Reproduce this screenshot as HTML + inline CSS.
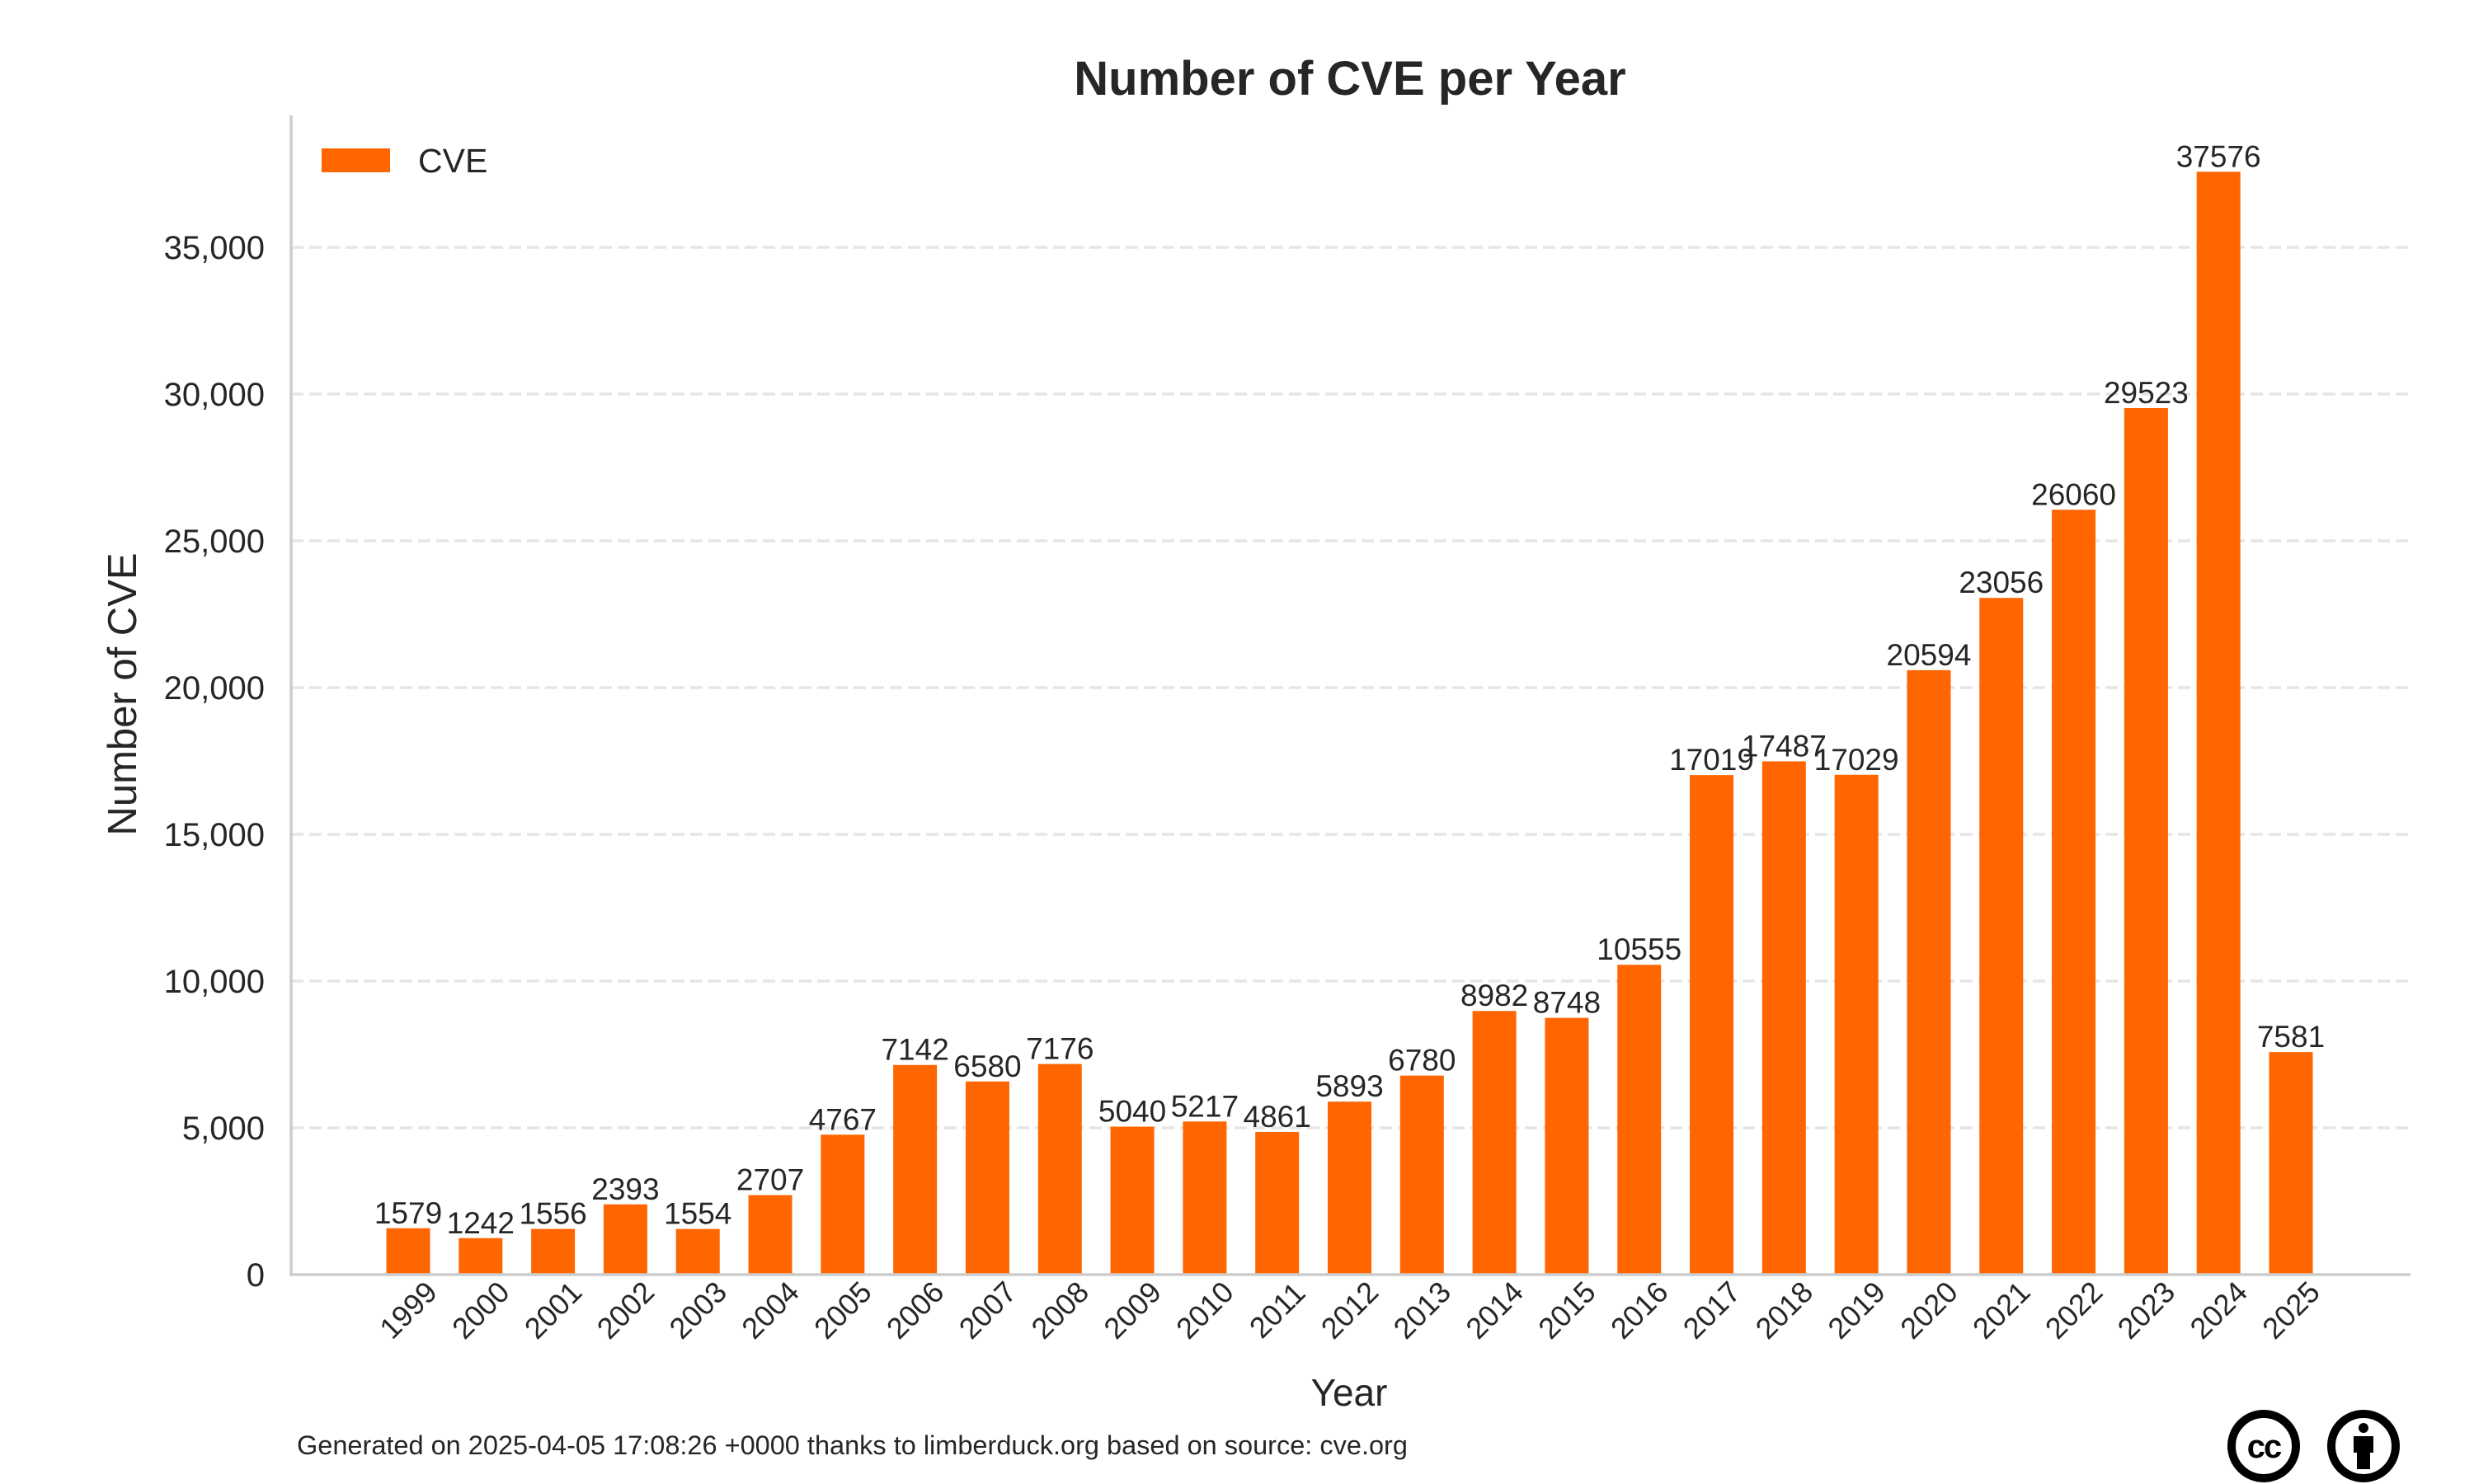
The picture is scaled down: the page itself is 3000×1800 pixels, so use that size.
<!DOCTYPE html>
<html><head><meta charset="utf-8"><style>
html,body{margin:0;padding:0;background:#fff;}
svg{display:block;font-family:"Liberation Sans",Arial,sans-serif;}
</style></head><body>
<svg id="chart" width="3000" height="1800" viewBox="0 0 3000 1800" xmlns="http://www.w3.org/2000/svg">
<rect width="3000" height="1800" fill="#fff"/>
<text x="1637" y="115" text-anchor="middle" font-size="58" font-weight="bold" fill="#262626">Number of CVE per Year</text>
<g id="grid"></g>
<g id="bars"></g>
<g id="labels"></g>
<g id="yticks"></g>
<g id="xticks"></g>
<line x1="353" y1="140" x2="353" y2="1547" stroke="#cccccc" stroke-width="3.5"/>
<line x1="351" y1="1546" x2="2923" y2="1546" stroke="#cccccc" stroke-width="3.5"/>
<text x="1636" y="1705" text-anchor="middle" font-size="46" fill="#262626">Year</text>
<text transform="translate(165,842) rotate(-90)" text-anchor="middle" font-size="49" fill="#262626">Number of CVE</text>
<g>
<rect x="390" y="180" width="83" height="29" fill="#ff6600"/>
<text x="507" y="209" font-size="41" fill="#262626">CVE</text>
</g>
<text x="360" y="1764" font-size="32.5" fill="#262626">Generated on 2025-04-05 17:08:26 +0000 thanks to limberduck.org based on source: cve.org</text>
<g>
<circle cx="2745" cy="1754" r="39" fill="none" stroke="#000" stroke-width="10"/>
<text x="2745" y="1768" text-anchor="middle" font-size="40" font-weight="bold" fill="#000" letter-spacing="-2">cc</text>
</g>
<g>
<circle cx="2866" cy="1754" r="39" fill="none" stroke="#000" stroke-width="10"/>
<circle cx="2866" cy="1732" r="6" fill="#000"/>
<rect x="2854" y="1742" width="24" height="20" fill="#000"/>
<rect x="2858" y="1760" width="16" height="22" fill="#000"/>
</g>
</svg>
<script>
const years = ["1999","2000","2001","2002","2003","2004","2005","2006","2007","2008","2009","2010","2011","2012","2013","2014","2015","2016","2017","2018","2019","2020","2021","2022","2023","2024","2025"];
const cveCounts = [1579,1242,1556,2393,1554,2707,4767,7142,6580,7176,5040,5217,4861,5893,6780,8982,8748,10555,17019,17487,17029,20594,23056,26060,29523,37576,7581];
const yTicks = [0,5000,10000,15000,20000,25000,30000,35000];
const yTickLabels = ["0","5,000","10,000","15,000","20,000","25,000","30,000","35,000"];

const NS = "http://www.w3.org/2000/svg";
const plotLeft = 353, plotRight = 2923, y0 = 1546, pxPer5000 = 178;
function yScale(v){ return y0 - v / 5000 * pxPer5000; }
const firstCenter = 495, lastCenter = 2778;
function xScale(i){ return firstCenter + i * (lastCenter - firstCenter) / (years.length - 1); }
const barW = 53;
function mk(tag, attrs){ const e = document.createElementNS(NS, tag); for (const k in attrs) e.setAttribute(k, attrs[k]); return e; }

const grid = document.getElementById('grid');
const yt = document.getElementById('yticks');
yTicks.forEach((t, i) => {
  const y = yScale(t);
  if (t > 0) {
    const l = mk('line', {x1: plotLeft, x2: plotRight, y1: y, y2: y, stroke: '#e5e5e5', 'stroke-width': 3.5, 'stroke-dasharray': '15 7'});
    
    
    grid.appendChild(l);
  }
  const tx = mk('text', {x: 321, y: y + 14, 'text-anchor': 'end', 'font-size': 40, fill: '#262626'});
  tx.textContent = yTickLabels[i];
  
  
  yt.appendChild(tx);
});

const bars = document.getElementById('bars');
const labels = document.getElementById('labels');
const xt = document.getElementById('xticks');
years.forEach((yr, i) => {
  const cx = xScale(i), v = cveCounts[i], top = yScale(v);
  const r = mk('rect', {x: cx - barW / 2, y: top, width: barW, height: y0 - top, fill: '#ff6600'});
  
  
  bars.appendChild(r);
  const lb = mk('text', {x: cx, y: top - 6, 'text-anchor': 'middle', 'font-size': 37, fill: '#262626'});
  lb.textContent = String(v);
  
  
  labels.appendChild(lb);
  const xl = mk('text', {transform: 'translate(' + cx + ',1589) rotate(-45)', 'text-anchor': 'middle', 'dominant-baseline': 'central', 'font-size': 36, fill: '#262626'});
  xl.textContent = yr;
  
  
  xt.appendChild(xl);
});
</script>
</body></html>
